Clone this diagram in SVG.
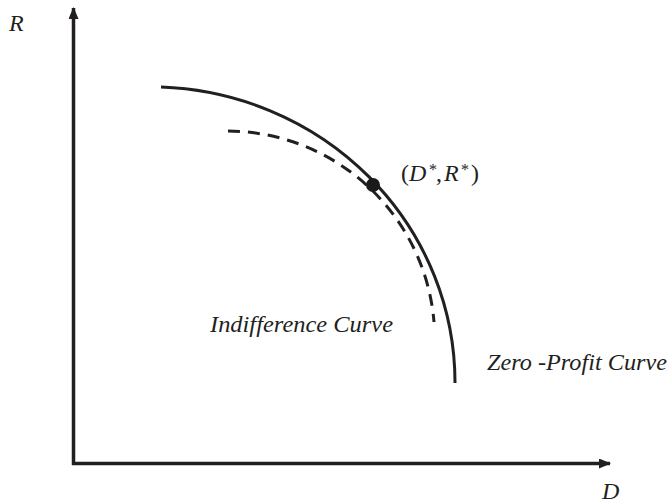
<svg xmlns="http://www.w3.org/2000/svg" width="670" height="503" viewBox="0 0 670 503">
  <style>
    .axis { stroke: #231f20; stroke-width: 3.5; fill: none; }
    .curve { stroke: #231f20; stroke-width: 3; fill: none; }
    .dash { stroke-dasharray: 12 8; }
    .lbl { font-family: "Liberation Serif", "Times New Roman", serif; font-style: italic; font-size: 24px; fill: #231f20; }
    .up { font-style: normal; }
  </style>
  <defs>
    <marker id="arrow" viewBox="0 0 12 10" refX="11" refY="5" markerWidth="12" markerHeight="10" markerUnits="userSpaceOnUse" orient="auto">
      <path d="M0,0 L12,5 L0,10 Z" fill="#231f20"/>
    </marker>
  </defs>
  <rect width="670" height="503" fill="#ffffff"/>
  <g id="axes">
    <line class="axis" x1="73.5" y1="465" x2="73.5" y2="8" marker-end="url(#arrow)"/>
    <line class="axis" x1="72" y1="463.5" x2="610" y2="463.5" marker-end="url(#arrow)"/>
  </g>
  <g id="curves">
    <path id="zero-profit" class="curve" d="M 161 87 A 305 296 0 0 1 455 383"/>
    <path id="indifference" class="curve dash" d="M 228 131 A 208 208 0 0 1 434 322"/>
  </g>
  <g id="optimum">
    <circle cx="373" cy="185" r="7" fill="#1a1a1a"/>
  </g>
  <g id="labels">
    <text class="lbl" x="9" y="30.5">R</text>
    <text class="lbl" x="602" y="499">D</text>
    <text class="lbl" y="181"><tspan class="up" x="401">(</tspan><tspan x="409">D</tspan><tspan x="429" y="175" font-size="16" class="up">*</tspan><tspan class="up" x="436" y="181">,</tspan><tspan x="444">R</tspan><tspan x="461" y="175" font-size="16" class="up">*</tspan><tspan class="up" x="471" y="181">)</tspan></text>
    <text class="lbl" x="210" y="332" textLength="183" lengthAdjust="spacingAndGlyphs">Indifference Curve</text>
    <text class="lbl" x="487" y="370" textLength="180" lengthAdjust="spacingAndGlyphs">Zero -Profit Curve</text>
  </g>
</svg>
